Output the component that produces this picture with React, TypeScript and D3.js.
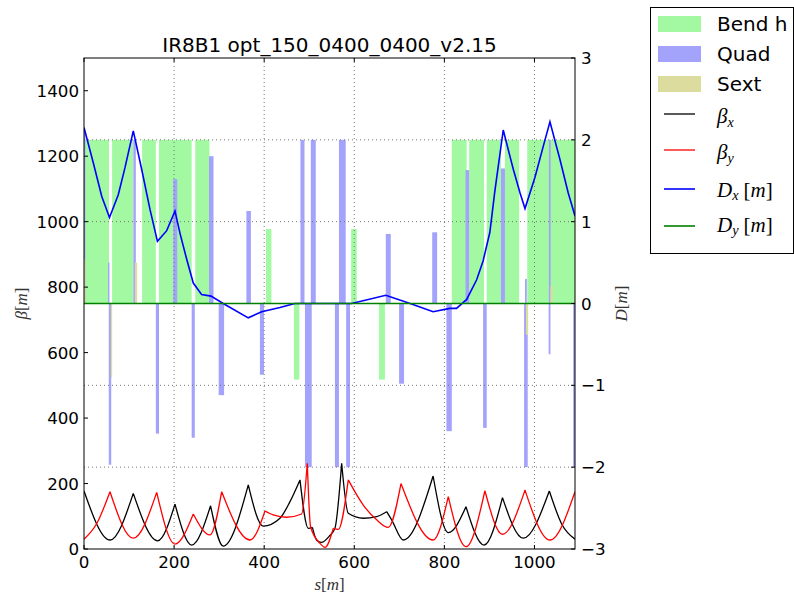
import React from "react";
import * as d3 from "d3";

// lattice / optics, s in metres
const title = "IR8B1 opt_150_0400_0400_v2.15";
const sMax = 1090;

// [s start, s end, height on the D axis]
const bends: [number, number, number][] = [
  [0, 55.5, 2], [62.4, 109, 2], [129, 159.5, 2], [166.5, 202, 2], [202, 239, 2],
  [247, 278.5, 2], [404, 416, 0.91], [466, 478, -0.93], [593, 605.5, 0.91],
  [655, 668, -0.93], [816.5, 849.5, 2], [855, 888, 2], [894, 925.5, 2],
  [934.5, 966, 2], [984, 1034, 2], [1034, 1090, 2],
];

const quads: [number, number, number][] = [
  [0, 3, 2.1], [53.5, 56.5, 0.5], [55, 60.5, -1.97], [109.5, 115, 2],
  [159.5, 166.5, -1.59], [198, 207, 1.52], [239, 246, -1.64], [277.5, 287.5, 1.8],
  [299, 311, -1.12], [360.5, 370.5, 1.13], [390.5, 399.5, -0.87], [480.5, 489.5, 2],
  [490.5, 505.5, -2], [503.5, 514.5, 2], [557, 566, -2], [566, 581, 2],
  [582, 590.5, -2], [670, 681, 0.85], [699.5, 710.5, -0.98], [773, 784, 0.87],
  [804.5, 816.5, -1.56], [847, 855, 1.63], [886, 894, -1.52], [925.5, 934.5, 1.65],
  [977, 985, -2], [979, 983, 0.3], [1032, 1036, 2], [1031.5, 1035.5, -0.62],
  [1086, 1090, -2],
];

const sexts: [number, number, number][] = [
  [0, 3, 0.54], [59.5, 62.5, -0.9], [113, 118, 0.5], [981, 986, -0.38],
  [1035.5, 1040.5, 0.21],
];

// [s, beta]
const betaX: [number, number][] = [
  [0, 177], [57.7, 27.5], [109.4, 170], [163.6, 25], [202, 137], [239, 12],
  [281, 132], [309, 9], [364.7, 196], [398, 70], [435, 94], [457, 144],
  [479.5, 211], [498, 63], [507, 66], [516.5, 27], [527, 20], [545, 40],
  [557, 63], [572, 262], [586.7, 109], [620, 94], [649.7, 99], [672, 114],
  [683, 89], [709, 27.5], [775, 223], [808.7, 50], [848, 129], [888, 12],
  [929, 157], [975, 33], [1033, 177], [1061, 75], [1090, 30],
];

const betaY: [number, number][] = [
  [0, 30], [28, 77], [57.7, 175], [109.4, 33], [161.4, 173], [202, 15],
  [242.6, 107], [279.7, 43], [305.7, 175], [368.5, 27.5], [401.8, 116],
  [420, 104], [450, 97], [483, 107], [495.7, 262], [503, 68], [524, 17],
  [535, 5], [553.4, 63], [564.5, 60], [586.7, 211], [620, 134], [649.7, 89],
  [675.5, 66], [703.7, 200], [775, 27.5], [808.7, 160], [848, 7], [890, 178],
  [929, 45], [979, 180], [1034.4, 27.5], [1090, 175],
];

// [s, Dx]
const dispX: [number, number][] = [
  [0, 2.15], [20.6, 1.72], [39.3, 1.31], [56.6, 1.05], [76.1, 1.33], [91, 1.66],
  [109.4, 2.11], [128, 1.64], [146.5, 1.15], [163, 0.76], [183.6, 0.89],
  [202, 1.13], [213, 0.86], [228, 0.54], [242.6, 0.25], [261, 0.11], [282, 0.09],
  [309, 0], [364.7, -0.175], [394.5, -0.1], [435, -0.05], [468, 0], [594, 0],
  [670, 0.1], [724, 0], [775, -0.1], [812, -0.06], [827, -0.06], [849.5, 0.05],
  [871.7, 0.29], [886, 0.52], [901, 0.87], [912, 1.37], [930.7, 2.12], [953, 1.64],
  [968, 1.35], [979, 1.16], [1001, 1.54], [1019.5, 1.92], [1034.4, 2.22],
  [1056.6, 1.76], [1075, 1.35], [1090, 1.07],
];

const sTicks = [0, 200, 400, 600, 800, 1000];
const betaTicks = [0, 200, 400, 600, 800, 1000, 1200, 1400];
const dTicks = [-3, -2, -1, 0, 1, 2, 3];

const legendPatches = [
  { label: "Bend h", color: "#a2f9a2" },
  { label: "Quad", color: "#a3a3fc" },
  { label: "Sext", color: "#dcdc9e" },
];

const W = 794;
const H = 596;
const left = 84;
const right = 575;
const top = 58;
const bottom = 549;

const tickFont = "DejaVu Sans, sans-serif";
const mathFont = "Liberation Serif, DejaVu Serif, serif";

// split a series at its local maxima so the peaks stay sharp
function pieces(pts: [number, number][]) {
  const out: [number, number][][] = [];
  let cur: [number, number][] = [pts[0]];
  for (let i = 1; i < pts.length; i++) {
    cur.push(pts[i]);
    const isPeak =
      i < pts.length - 1 && pts[i][1] > pts[i - 1][1] && pts[i][1] > pts[i + 1][1];
    if (isPeak) {
      out.push(cur);
      cur = [pts[i]];
    }
  }
  if (cur.length > 1) out.push(cur);
  return out;
}

// "sym[m]" style math label: italic symbol, upright brackets
function MathLabel({ sym, sub }: { sym: string; sub?: string }) {
  return (
    <>
      <tspan fontStyle="italic">{sym}</tspan>
      {sub && (
        <tspan fontStyle="italic" fontSize="0.68em" dy="0.2em">
          {sub}
        </tspan>
      )}
      <tspan fontStyle="normal" dy={sub ? "-0.14em" : 0} dx={sub ? 5 : 0}>
        [
      </tspan>
      <tspan fontStyle="italic">m</tspan>
      <tspan fontStyle="normal">]</tspan>
    </>
  );
}

export default function App() {
  const x = d3.scaleLinear().domain([0, sMax]).range([left, right]);
  const yB = d3.scaleLinear().domain([0, 1500]).range([bottom, top]);
  const yD = d3.scaleLinear().domain([-3, 3]).range([bottom, top]);

  const betaLine = d3
    .line<[number, number]>()
    .x((d) => x(d[0]))
    .y((d) => yB(d[1]))
    .curve(d3.curveMonotoneX);
  const dLine = d3
    .line<[number, number]>()
    .x((d) => x(d[0]))
    .y((d) => yD(d[1]));

  const betaPath = (pts: [number, number][]) =>
    pieces(pts)
      .map((p) => betaLine(p))
      .join("");

  const bar = (e: [number, number, number], color: string, key: string) => {
    const y0 = yD(0);
    const y1 = yD(e[2]);
    return (
      <rect
        key={key}
        x={x(e[0])}
        width={Math.max(x(e[1]) - x(e[0]), 1)}
        y={Math.min(y0, y1)}
        height={Math.abs(y1 - y0)}
        fill={color}
      />
    );
  };

  const grid = "#777";

  return (
    <svg
      width={W}
      height={H}
      style={{ position: "absolute", left: 0, top: 0, background: "#fff" }}
    >
      <defs>
        <clipPath id="plot">
          <rect x={left} y={top} width={right - left} height={bottom - top} />
        </clipPath>
      </defs>

      <g clipPath="url(#plot)">
        {bends.map((b, i) => bar(b, legendPatches[0].color, "b" + i))}
        {quads.map((q, i) => bar(q, legendPatches[1].color, "q" + i))}
        {sexts.map((s, i) => bar(s, legendPatches[2].color, "s" + i))}

        {/* dotted grid */}
        {sTicks.slice(1).map((t) => (
          <line
            key={"gx" + t}
            x1={x(t)}
            x2={x(t)}
            y1={top}
            y2={bottom}
            stroke={grid}
            strokeWidth={1}
            strokeDasharray="1,3"
          />
        ))}
        {dTicks.slice(1, -1).map((t) => (
          <line
            key={"gy" + t}
            x1={left}
            x2={right}
            y1={yD(t)}
            y2={yD(t)}
            stroke={grid}
            strokeWidth={1}
            strokeDasharray="1,3"
          />
        ))}

        <path d={betaPath(betaX)} fill="none" stroke="#000" strokeWidth={1.3} />
        <path d={betaPath(betaY)} fill="none" stroke="#ff0000" strokeWidth={1.3} />
        <path d={dLine(dispX) || ""} fill="none" stroke="#0000ff" strokeWidth={1.6} />
        <line
          x1={x(0)}
          x2={x(sMax)}
          y1={yD(0)}
          y2={yD(0)}
          stroke="#008000"
          strokeWidth={1.6}
        />
      </g>

      {/* frame */}
      <rect
        x={left}
        y={top}
        width={right - left}
        height={bottom - top}
        fill="none"
        stroke="#000"
        strokeWidth={1}
      />

      {/* s ticks top and bottom */}
      {sTicks.map((t) => (
        <g key={"xt" + t}>
          <line x1={x(t)} x2={x(t)} y1={bottom} y2={bottom - 4} stroke="#000" />
          <line x1={x(t)} x2={x(t)} y1={top} y2={top + 4} stroke="#000" />
          <text
            x={x(t)}
            y={568}
            textAnchor="middle"
            fontFamily={tickFont}
            fontSize={16.7}
            fill="#000"
          >
            {t}
          </text>
        </g>
      ))}

      {/* beta axis */}
      {betaTicks.map((t) => (
        <g key={"bt" + t}>
          <line x1={left} x2={left + 4} y1={yB(t)} y2={yB(t)} stroke="#000" />
          <text
            x={79}
            y={yB(t)}
            dy="0.36em"
            textAnchor="end"
            fontFamily={tickFont}
            fontSize={16.7}
            fill="#000"
          >
            {t}
          </text>
        </g>
      ))}

      {/* D axis */}
      {dTicks.map((t) => (
        <g key={"dt" + t}>
          <line x1={right} x2={right - 4} y1={yD(t)} y2={yD(t)} stroke="#000" />
          <text
            x={581}
            y={yD(t)}
            dy="0.36em"
            textAnchor="start"
            fontFamily={tickFont}
            fontSize={16.7}
            fill="#000"
          >
            {t < 0 ? "\u2212" + Math.abs(t) : String(t)}
          </text>
        </g>
      ))}

      {/* axis labels */}
      <g fontFamily={mathFont} fontSize={17} fill="#333">
        <text x={(left + right) / 2} y={590} textAnchor="middle">
          <MathLabel sym="s" />
        </text>
        <text
          transform={`translate(27,${(top + bottom) / 2}) rotate(-90)`}
          textAnchor="middle"
        >
          <MathLabel sym="β" />
        </text>
        <text
          transform={`translate(627,${(top + bottom) / 2}) rotate(-90)`}
          textAnchor="middle"
        >
          <MathLabel sym="D" />
        </text>
      </g>

      <text
        x={(left + right) / 2}
        y={52}
        textAnchor="middle"
        fontFamily={tickFont}
        fontSize={20}
        fill="#000"
      >
        {title}
      </text>

      {/* legend */}
      <rect x={650.5} y={7.5} width={143} height={246} fill="#fff" stroke="#000" />
      {legendPatches.map((p, i) => (
        <g key={p.label}>
          <rect x={658} y={16 + i * 30} width={43} height={16} fill={p.color} />
          <text
            x={717}
            y={31 + i * 30}
            fontFamily={tickFont}
            fontSize={20}
            fill="#000"
          >
            {p.label}
          </text>
        </g>
      ))}
      <line x1={664} x2={695} y1={114} y2={114} stroke="#000" strokeWidth={1.3} />
      <line x1={664} x2={695} y1={150} y2={150} stroke="#ff0000" strokeWidth={1.3} />
      <line x1={664} x2={695} y1={189} y2={189} stroke="#0000ff" strokeWidth={1.6} />
      <line x1={664} x2={695} y1={226} y2={226} stroke="#008000" strokeWidth={1.6} />
      <g fontFamily={mathFont} fontStyle="italic" fontSize={21} fill="#000">
        <text x={717} y={123}>
          β<tspan fontSize={14} dy={4}>x</tspan>
        </text>
        <text x={717} y={159}>
          β<tspan fontSize={14} dy={4}>y</tspan>
        </text>
        <text x={717} y={197}>
          <MathLabel sym="D" sub="x" />
        </text>
        <text x={717} y={232}>
          <MathLabel sym="D" sub="y" />
        </text>
      </g>
    </svg>
  );
}
